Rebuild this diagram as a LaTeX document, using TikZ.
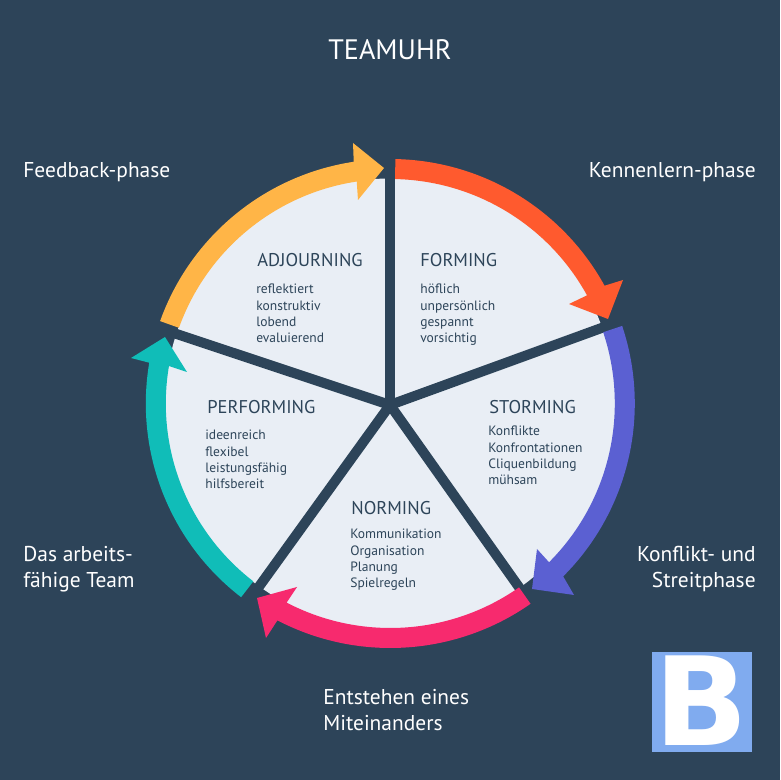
\documentclass[tikz,border=0pt]{standalone}
\usepackage{fontspec}
\setmainfont{PT Sans}
\usetikzlibrary{positioning, calc}
\definecolor{navy}{HTML}{2D4459}
\definecolor{paper}{HTML}{E9EEF5}
\definecolor{logoblue}{HTML}{80ABEF}
\definecolor{cform}{HTML}{FF5A2E}
\definecolor{cstorm}{HTML}{5B60D2}
\definecolor{cnorm}{HTML}{F72A6E}
\definecolor{cperf}{HTML}{10BDB8}
\definecolor{cadj}{HTML}{FFB547}
\tikzset{
  maintitle/.style={text=white, font=\fontsize{16}{18}\selectfont, inner sep=0pt},
  phase/.style={text=white, font=\fontsize{12.2}{14.8}\selectfont, inner sep=0pt},
  heading/.style={text=navy, font=\fontsize{10.5}{12}\selectfont, inner sep=0pt, anchor=base west},
  traits/.style={text=navy, font=\fontsize{7.7}{9.25}\selectfont, inner sep=0pt, anchor=north west, align=left},
  spoke/.style={navy, line width=10*0.2mm}
}
\newcommand{\phasearrow}[6]{
  \fill[#1, shift={(390.3,376.5)}] (#2:244.5) arc[start angle=#2, end angle=#3, radius=244.5]
    -- #4 -- #5 -- #6 -- (#3:224.5) arc[start angle=#3, end angle=#2, radius=224.5] -- cycle;
}
\begin{document}
\begin{tikzpicture}[x=0.2mm, y=0.2mm]
        \fill[navy] (0,0) rectangle (780,780);
        \useasboundingbox (0,0) rectangle (780,780);
        
        % pie and spokes
        \coordinate (hub) at (390, 375);
        \fill[paper] (390.3, 376.5) circle (225);
        \foreach \a/\n in {90/a, 20/b, -54.7/c, -125.8/d, 161.6/e} {
          \coordinate (spoke\n) at ($(hub)+(\a:238)$);
          \draw[spoke] (hub) -- (spoke\n);
        }
        
        % arrows
        \phasearrow{cform}{88.8}{28.8}{(232.7,123.5)}{(217.7,84.5)}{(178.7,99.5)}
        \phasearrow{cstorm}{18.5}{-45}{(183.7,-191.5)}{(141.7,-185.5)}{(146.7,-145.5)}
        \phasearrow{cnorm}{-55}{-117.5}{(-124.3,-234.5)}{(-133.3,-194.5)}{(-93.3,-183.5)}
        \phasearrow{cperf}{232.4}{170.4}{(-259.3,45.5)}{(-225.3,66.5)}{(-203.3,31.5)}
        \phasearrow{cadj}{160.3}{98.6}{(-37.3,260.5)}{(-6.3,235.5)}{(-32.3,203.5)}
        
        % texts
        \node[maintitle] (title) at (390, 730) {TEAMUHR};
        \node[phase, anchor=west] (feedback) at (23, 608) {Feedback-phase};
        \node[phase, anchor=east] (kennen) at (756, 608) {Kennenlern-phase};
        \node[phase, anchor=north west, align=left] (arbeit) at (23, 234) {Das arbeits-\\fähige Team};
        \node[phase, anchor=north east, align=right] (konflikt) at (756, 234) {Konflikt- und\\Streitphase};
        \node[phase, anchor=north west, align=left] (miteinander) at (323, 91) {Entstehen eines\\Miteinanders};
        
        \node[heading] (forming) at (420, 513) {FORMING};
        \node[traits] (formingtxt) at (420, 496) {höflich\\unpersönlich\\gespannt\\vorsichtig};
        \node[heading] (storming) at (489, 366) {STORMING};
        \node[traits] (stormingtxt) at (488, 354) {Konflikte\\Konfrontationen\\Cliquenbildung\\mühsam};
        \node[heading] (norming) at (351, 265) {NORMING};
        \node[traits] (normingtxt) at (350, 251) {Kommunikation\\Organisation\\Planung\\Spielregeln};
        \node[heading] (performing) at (207, 366) {PERFORMING};
        \node[traits] (performingtxt) at (205, 350) {ideenreich\\flexibel\\leistungsfähig\\hilfsbereit};
        \node[heading] (adjourning) at (257, 513) {ADJOURNING};
        \node[traits] (adjourningtxt) at (256, 496) {reflektiert\\konstruktiv\\lobend\\evaluierend};
        
        % logo
        \node[fill=logoblue, minimum size=100*0.2mm, inner sep=0pt] (logo) at (702, 78) {};
        \node[text=white, inner sep=0pt, font=\fontspec{DejaVu Sans Bold}\fontsize{70}{70}\selectfont] (logob) at (701.5, 79) {B};
      \end{tikzpicture}
\end{document}
